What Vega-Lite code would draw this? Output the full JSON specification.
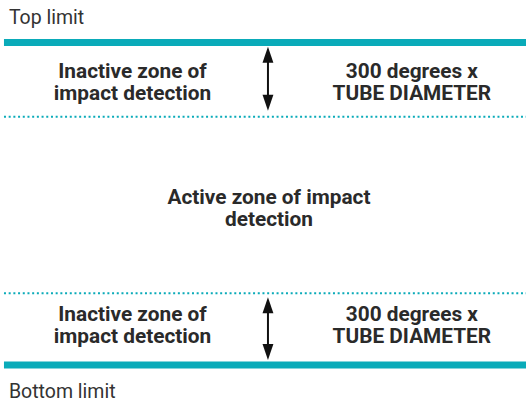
{
  "$schema": "https://vega.github.io/schema/vega-lite/v6.json",
  "width": 530,
  "height": 402,
  "padding": 0,
  "autosize": {"type": "fit", "contains": "padding"},
  "background": "white",
  "view": {"stroke": null},
  "datasets": {
    "solid": [
      {"x": 4, "x2": 530, "y": 42.5},
      {"x": 4, "x2": 530, "y": 366}
    ],
    "dotted": [
      {"x": 4, "x2": 530, "y": 117},
      {"x": 4, "x2": 530, "y": 294}
    ],
    "shafts": [
      {"x": 270, "y": 52, "y2": 106},
      {"x": 270, "y": 302, "y2": 356}
    ],
    "heads": [
      {"x": 270, "y": 55, "dir": "up"},
      {"x": 270, "y": 103, "dir": "down"},
      {"x": 270, "y": 306, "dir": "up"},
      {"x": 270, "y": 353, "dir": "down"}
    ],
    "labels": [
      {"x": 9, "y": 24, "text": "Top limit"},
      {"x": 9, "y": 399, "text": "Bottom limit"}
    ],
    "bold": [
      {"x": 133.5, "y": 78, "text": ["Inactive zone of", "impact detection"]},
      {"x": 415, "y": 78, "text": ["300 degrees x", "TUBE DIAMETER"]},
      {"x": 271, "y": 205, "text": ["Active zone of impact", "detection"]},
      {"x": 133.5, "y": 322, "text": ["Inactive zone of", "impact detection"]},
      {"x": 415, "y": 322, "text": ["300 degrees x", "TUBE DIAMETER"]}
    ]
  },
  "resolve": {"scale": {"x": "shared", "y": "shared"}},
  "layer": [
    {
      "data": {"name": "solid"},
      "mark": {"type": "rule", "stroke": "#0aabb9", "strokeWidth": 7},
      "encoding": {
        "x": {"field": "x", "type": "quantitative", "scale": {"domain": [0, 530], "nice": false, "zero": false}, "axis": null},
        "x2": {"field": "x2"},
        "y": {"field": "y", "type": "quantitative", "scale": {"domain": [0, 402], "reverse": true, "nice": false, "zero": false}, "axis": null}
      }
    },
    {
      "data": {"name": "dotted"},
      "mark": {"type": "rule", "stroke": "#0aabb9", "strokeWidth": 2, "strokeDash": [2, 2.7]},
      "encoding": {
        "x": {"field": "x", "type": "quantitative"},
        "x2": {"field": "x2"},
        "y": {"field": "y", "type": "quantitative"}
      }
    },
    {
      "data": {"name": "shafts"},
      "mark": {"type": "rule", "stroke": "#111111", "strokeWidth": 2},
      "encoding": {
        "x": {"field": "x", "type": "quantitative"},
        "y": {"field": "y", "type": "quantitative"},
        "y2": {"field": "y2"}
      }
    },
    {
      "data": {"name": "heads"},
      "mark": {"type": "point", "filled": true, "fill": "#111111", "stroke": null, "opacity": 1, "size": 256},
      "encoding": {
        "x": {"field": "x", "type": "quantitative"},
        "y": {"field": "y", "type": "quantitative"},
        "shape": {
          "field": "dir",
          "type": "nominal",
          "scale": {"domain": ["up", "down"], "range": ["M0,-1L0.68,1L-0.68,1Z", "M0,1L0.68,-1L-0.68,-1Z"]},
          "legend": null
        }
      }
    },
    {
      "data": {"name": "labels"},
      "mark": {"type": "text", "align": "left", "baseline": "alphabetic", "font": "Roboto", "fontSize": 19.5, "fill": "#333333"},
      "encoding": {
        "x": {"field": "x", "type": "quantitative"},
        "y": {"field": "y", "type": "quantitative"},
        "text": {"field": "text"}
      }
    },
    {
      "data": {"name": "bold"},
      "mark": {"type": "text", "align": "center", "baseline": "alphabetic", "lineHeight": 22, "font": "Roboto", "fontWeight": "bold", "fontSize": 20.8, "fill": "#2a2a2a"},
      "encoding": {
        "x": {"field": "x", "type": "quantitative"},
        "y": {"field": "y", "type": "quantitative"},
        "text": {"field": "text"}
      }
    }
  ]
}
